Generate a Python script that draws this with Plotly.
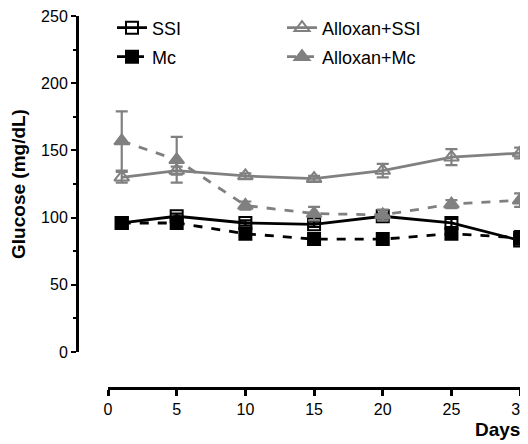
import plotly.graph_objects as go

days = [1, 5, 10, 15, 20, 25, 30]
ssi = [96, 101, 96, 95, 101, 96, 83]
ssi_err = [2, 2, 2, 2, 2, 3, 3]
mc = [96, 96, 88, 84, 84, 88, 85]
mc_err = [2, 2, 3, 2, 2, 3, 5]
allox_ssi = [130, 135, 131, 129, 135, 145, 148]
allox_ssi_err = [4, 3, 2, 2, 5, 6, 4]
allox_mc = [157, 143, 109, 103, 102, 110, 113]
allox_mc_err = [22, 17, 3, 5, 4, 3, 5]

GRAY = "#808080"
series = [
    ("SSI", ssi, ssi_err, "black", "solid", "square-open", 12, "legend"),
    ("Mc", mc, mc_err, "black", "dash", "square", 12, "legend2"),
    ("Alloxan+SSI", allox_ssi, allox_ssi_err, GRAY, "solid", "triangle-up-open", 13, "legend3"),
    ("Alloxan+Mc", allox_mc, allox_mc_err, GRAY, "dash", "triangle-up", 13, "legend4"),
]

fig = go.Figure()
for name, vals, errs, col, dash, sym, msize, leg in series:
    fig.add_trace(go.Scatter(
        x=days, y=vals, name=name, mode="lines+markers",
        line=dict(color=col, width=2.8, dash=dash),
        marker=dict(symbol=sym, size=msize, color=col, line=dict(width=2, color=col)),
        error_y=dict(type="data", array=errs, visible=True, color=col, thickness=2.2, width=6),
        legend=leg, cliponaxis=False,
    ))

# page has an 8px body margin, so the figure is 8px smaller than the window
OFF = 8
W, H = 528 - OFF, 444 - OFF
l, r, t, b = 77 - OFF, 1, 16 - OFF, 56
plot_w = W - l - r
plot_h = H - t - b
xdom0 = (108 - 77) / plot_w
ydom0 = (388 - 352) / plot_h

def py(pix):
    return (388 - pix) / plot_h

def px(pix):
    return (pix - 77) / plot_w

FONT = "Liberation Sans, Arial, sans-serif"
leg_common = dict(xanchor="left", yanchor="middle", bgcolor="rgba(0,0,0,0)",
                  font=dict(size=18), tracegroupgap=0, itemwidth=30)

fig.update_layout(
    width=W, height=H,
    margin=dict(l=l, r=r, t=t, b=b, autoexpand=False),
    plot_bgcolor="white", paper_bgcolor="white",
    font=dict(family=FONT, size=16, color="black"),
    xaxis=dict(
        domain=[xdom0, 1], anchor="free", position=0, automargin=False,
        range=[0, 30.5], tickvals=[0, 5, 10, 15, 20, 25, 30],
        showline=True, linecolor="black", linewidth=3,
        ticks="outside", ticklen=6, tickwidth=3, tickcolor="black",
        showgrid=False, zeroline=False, ticklabeloverflow="allow",
        tickfont=dict(size=16),
    ),
    yaxis=dict(
        domain=[ydom0, 1], anchor="free", position=0, automargin=False,
        range=[0, 250.01], tickvals=[0, 50, 100, 150, 200, 250],
        showline=True, linecolor="black", linewidth=3,
        ticks="outside", ticklen=5, tickwidth=2, tickcolor="black",
        minor=dict(ticks="outside", dtick=25, ticklen=3, tickwidth=2, tickcolor="black"),
        showgrid=False, zeroline=False, ticklabeloverflow="allow",
        title=dict(text="<b>Glucose (mg/dL)</b>", font=dict(size=19), standoff=10),
        tickfont=dict(size=16),
    ),
    legend=dict(x=px(112), y=py(28), **leg_common),
    legend2=dict(x=px(112), y=py(57), **leg_common),
    legend3=dict(x=px(282), y=py(28), **leg_common),
    legend4=dict(x=px(282), y=py(57), **leg_common),
    showlegend=True,
)
fig.add_annotation(text="<b>Days</b>", x=1.0, y=py(417), xref="paper", yref="paper",
                   xanchor="right", yanchor="top", showarrow=False, xshift=-5,
                   font=dict(size=19))

fig.write_html("out.html")
